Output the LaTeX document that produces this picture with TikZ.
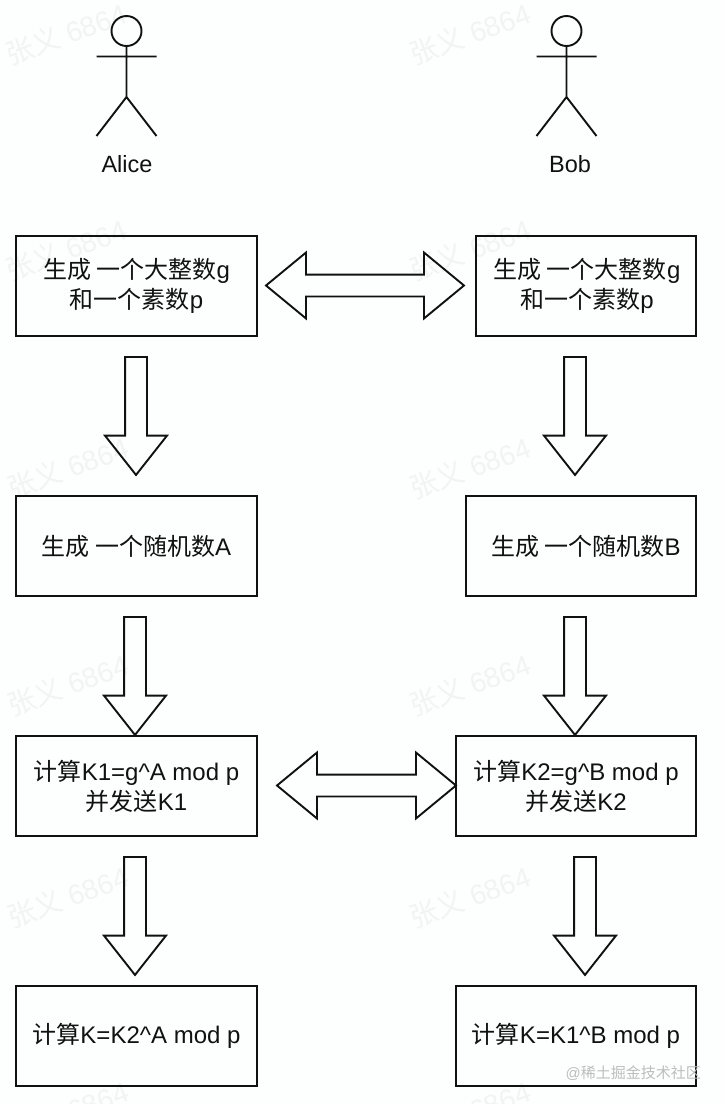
\documentclass[tikz,border=0pt]{standalone}
\usepackage{fontspec}
\setmainfont{Liberation Sans}
\newfontfamily\cjk{Noto Sans CJK SC}
\usetikzlibrary{shapes.arrows}
\newcommand{\zh}[1]{{\cjk #1}}
\definecolor{ink}{HTML}{111111}
\definecolor{paper}{HTML}{FDFEFE}
\definecolor{wm}{HTML}{F2F3F3}
\definecolor{wm2}{HTML}{BDBDBD}
\tikzset{
  x=1pt,y=-1pt,
  stepbox/.style={draw=ink,line width=2pt,fill=none,inner sep=0pt,align=center,font=\fontsize{24}{30}\selectfont,text=ink},
  figline/.style={draw=ink,line width=1.9pt},
  figlabel/.style={font=\fontsize{23.5}{28}\selectfont,text=ink,inner sep=0pt},
  blockdown/.style={shape=single arrow,draw=ink,line width=1.9pt,fill=none,rotate=-90,
    inner xsep=0pt,inner ysep=10pt,minimum height=118pt,
    single arrow head extend=20pt,single arrow tip angle=76.5,single arrow head indent=0pt,anchor=center},
  blockdouble/.style={shape=double arrow,draw=ink,line width=1.9pt,fill=none,
    inner xsep=0pt,inner ysep=10pt,
    double arrow head extend=22pt,double arrow tip angle=79,double arrow head indent=0pt,anchor=center},
  watermark/.style={font=\fontsize{28}{32}\selectfont,text=wm,rotate=20,inner sep=0pt},
}
\newcommand{\wmark}[3]{\node[watermark] (#1) at (#2,#3) {\zh{张义} 6864};}
\begin{document}
\begin{tikzpicture}
\useasboundingbox (0,0) rectangle (724,1104);
\fill[paper] (0,0) rectangle (724,1104);
% watermarks
\wmark{wa}{66}{34}\wmark{wb}{470}{34}
\wmark{wc}{66}{250}\wmark{wd}{470}{250}
\wmark{we}{68}{468}\wmark{wf}{470}{468}
\wmark{wg}{68}{685}\wmark{wh}{470}{685}
\wmark{wi}{68}{897}\wmark{wj}{470}{897}
\wmark{wk}{68}{1112}\wmark{wl}{470}{1112}
% actors
\node[draw=ink,line width=1.9pt,circle,minimum size=30pt,inner sep=0pt] (ah) at (126.5,31) {};
\coordinate (ahip) at (126.5,97);
\coordinate (aal) at (96.5,56.5);\coordinate (aar) at (156.5,56.5);
\coordinate (all) at (96.5,136);\coordinate (alr) at (156.5,136);
\draw[figline] (ah.south) -- (ahip) (aal) -- (aar) (all) -- (ahip) -- (alr);
\node[figlabel] (alice) at (127,164) {Alice};
\node[draw=ink,line width=1.9pt,circle,minimum size=30pt,inner sep=0pt] (bh) at (566.5,31) {};
\coordinate (bhip) at (566.5,97);
\coordinate (bal) at (536.5,56.5);\coordinate (bar) at (596.5,56.5);
\coordinate (bll) at (536.5,136);\coordinate (blr) at (596.5,136);
\draw[figline] (bh.south) -- (bhip) (bal) -- (bar) (bll) -- (bhip) -- (blr);
\node[figlabel] (bob) at (570,164) {Bob};
% boxes
\node[stepbox,minimum width=241pt,minimum height=100pt] (l1) at (136.5,286) {\raisebox{-2pt}{\zh{生成 一个大整数}g}\\\raisebox{-2pt}{\zh{和一个素数}p}};
\node[stepbox,minimum width=220pt,minimum height=100pt] (r1) at (586,286) {\hspace*{2pt}\raisebox{-2pt}{\zh{生成 一个大整数}g}\\\hspace*{2pt}\raisebox{-2pt}{\zh{和一个素数}p}};
\node[stepbox,minimum width=241pt,minimum height=100pt] (l2) at (136.5,546) {\zh{生成 一个随机数}A};
\node[stepbox,minimum width=230pt,minimum height=100pt] (r2) at (581,546) {\hspace*{10pt}\zh{生成 一个随机数}B};
\node[stepbox,minimum width=241pt,minimum height=100pt] (l3) at (136.5,786) {\zh{计算}K1=g\textasciicircum A mod p\\\zh{并发送}K1};
\node[stepbox,minimum width=240pt,minimum height=100pt] (r3) at (576,786) {\zh{计算}K2=g\textasciicircum B mod p\\\zh{并发送}K2};
\node[stepbox,minimum width=241pt,minimum height=100pt] (l4) at (136.5,1036) {\zh{计算}K=K2\textasciicircum A mod p};
\node[stepbox,minimum width=240pt,minimum height=100pt] (r4) at (576,1036) {\zh{计算}K=K1\textasciicircum B mod p};
% vertical block arrows
\node[blockdown] (al1) at (136,409) {};
\node[blockdown] (ar1) at (575,409) {};
\node[blockdown] (al2) at (135,669) {};
\node[blockdown] (ar2) at (575,669) {};
\node[blockdown] (al3) at (135,909) {};
\node[blockdown] (ar3) at (585,909) {};
% horizontal double arrows
\node[blockdouble,minimum height=198pt] (d1) at (365,285.5) {};
\node[blockdouble,minimum height=179pt] (d2) at (366.5,785.5) {};
% platform mark
\node[font=\fontsize{15}{17}\selectfont,text=wm2,inner sep=0pt,anchor=east] (mark) at (701,1073) {@\zh{稀土掘金技术社区}};
\end{tikzpicture}
\end{document}
